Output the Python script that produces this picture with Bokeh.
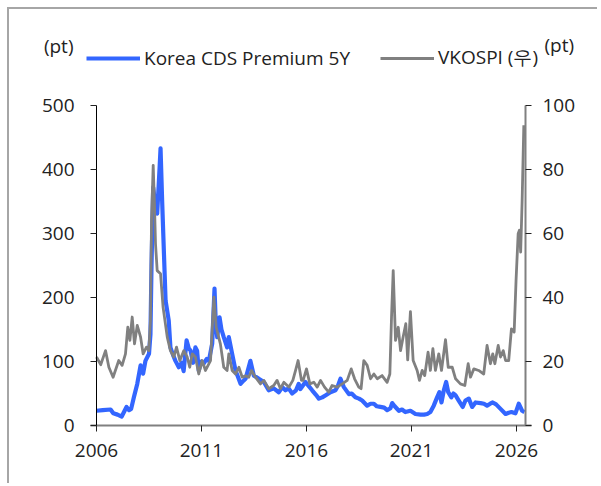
from bokeh.plotting import figure
from bokeh.models import (Range1d, LinearAxis, FixedTicker, Legend, LegendItem,
                          Label, ColumnDataSource)
from bokeh.embed import file_html
from bokeh.resources import INLINE

# ---------------- data ----------------
cds_t = [2006.0, 2006.3, 2006.67, 2006.8, 2007.0, 2007.2, 2007.43, 2007.55, 2007.65, 2007.78,
         2007.94, 2008.1, 2008.22, 2008.33, 2008.5, 2008.57, 2008.62, 2008.7, 2008.78, 2008.89,
         2009.0, 2009.05, 2009.13, 2009.2, 2009.29, 2009.44, 2009.52, 2009.65, 2009.76, 2009.92,
         2010.05, 2010.15, 2010.29, 2010.4, 2010.48, 2010.6, 2010.71, 2010.79, 2010.87, 2011.0,
         2011.11, 2011.25, 2011.35, 2011.51, 2011.62, 2011.68, 2011.75, 2011.86, 2011.95, 2012.06,
         2012.22, 2012.3, 2012.46, 2012.62, 2012.75, 2012.86, 2013.0, 2013.1, 2013.33, 2013.49,
         2013.6, 2013.73, 2013.97, 2014.2, 2014.44, 2014.68, 2014.85, 2015.0, 2015.15, 2015.32,
         2015.5, 2015.63, 2015.71, 2015.95, 2016.1, 2016.27, 2016.45, 2016.59, 2016.75, 2016.9,
         2017.14, 2017.38, 2017.5, 2017.62, 2017.7, 2017.78, 2018.02, 2018.15, 2018.33, 2018.5,
         2018.65, 2018.89, 2019.05, 2019.21, 2019.35, 2019.52, 2019.7, 2019.84, 2020.0, 2020.08,
         2020.2, 2020.4, 2020.55, 2020.71, 2020.95, 2021.19, 2021.43, 2021.6, 2021.75, 2021.9,
         2022.06, 2022.22, 2022.33, 2022.43, 2022.54, 2022.65, 2022.75, 2022.9, 2023.0, 2023.1,
         2023.25, 2023.44, 2023.57, 2023.73, 2023.89, 2024.05, 2024.29, 2024.45, 2024.6, 2024.75,
         2024.87, 2025.03, 2025.24, 2025.48, 2025.63, 2025.76, 2025.95, 2026.11, 2026.2, 2026.27,
         2026.38]
cds_v = [23, 24, 25, 19, 17, 14, 29, 24, 26, 44,
         65, 94, 81, 101, 112, 143, 250, 372, 350, 331,
         400, 433, 347, 280, 195, 164, 122, 110, 101, 91,
         98, 85, 133, 120, 117, 98, 122, 117, 86, 100,
         97, 104, 101, 128, 214, 160, 138, 169, 150, 138,
         122, 138, 112, 86, 75, 65, 70, 73, 101, 78,
         76, 73, 68, 55, 58, 52, 60, 55, 58, 50,
         55, 65, 57, 68, 62, 55, 48, 42, 44, 47,
         52, 55, 62, 73, 66, 60, 49, 50, 44, 42,
         39, 31, 34, 34, 30, 29, 28, 24, 27, 35,
         30, 23, 25, 21, 23, 18, 17, 17, 18, 21,
         31, 44, 52, 36, 55, 68, 52, 44, 50, 47,
         39, 29, 39, 42, 29, 36, 35, 34, 31, 34,
         36, 33, 26, 18, 20, 21, 19, 34, 28, 23,
         21]

vk_t = [2006.0, 2006.2, 2006.43, 2006.59, 2006.79, 2007.06, 2007.22, 2007.38, 2007.49, 2007.59,
        2007.7, 2007.81, 2007.94, 2008.1, 2008.22, 2008.38, 2008.49, 2008.57, 2008.62, 2008.7,
        2008.76, 2008.81, 2008.89, 2009.05, 2009.17, 2009.37, 2009.52, 2009.68, 2009.81, 2009.97,
        2010.16, 2010.32, 2010.44, 2010.56, 2010.71, 2010.87, 2011.03, 2011.19, 2011.43, 2011.59,
        2011.7, 2011.9, 2012.06, 2012.22, 2012.3, 2012.46, 2012.62, 2012.78, 2012.94, 2013.1,
        2013.25, 2013.38, 2013.57, 2013.81, 2013.97, 2014.2, 2014.44, 2014.6, 2014.76, 2014.92,
        2015.16, 2015.35, 2015.48, 2015.6, 2015.76, 2015.84, 2016.0, 2016.16, 2016.35, 2016.51,
        2016.67, 2016.86, 2017.06, 2017.22, 2017.46, 2017.7, 2017.94, 2018.13, 2018.29, 2018.49,
        2018.6, 2018.73, 2018.89, 2019.05, 2019.21, 2019.37, 2019.6, 2019.84, 2019.97, 2020.05,
        2020.13, 2020.24, 2020.37, 2020.48, 2020.6, 2020.73, 2020.82, 2020.95, 2021.08, 2021.27,
        2021.38, 2021.51, 2021.63, 2021.79, 2021.9, 2022.02, 2022.14, 2022.3, 2022.43, 2022.62,
        2022.75, 2022.94, 2023.1, 2023.33, 2023.54, 2023.7, 2023.81, 2023.97, 2024.2, 2024.44,
        2024.6, 2024.76, 2024.87, 2024.97, 2025.13, 2025.24, 2025.37, 2025.48, 2025.63, 2025.76,
        2025.89, 2025.98, 2026.08, 2026.14, 2026.2, 2026.27, 2026.35]
vk_v = [21.4, 19.0, 23.4, 18.2, 15.1, 20.3, 18.8, 22.4, 30.7, 26.6,
        33.9, 25.5, 31.3, 27.6, 22.4, 24.5, 23.4, 32.8, 64.0, 81.3,
        69.3, 56.8, 48.4, 47.4, 37.0, 27.6, 23.4, 21.4, 24.5, 20.3,
        23.4, 21.4, 18.2, 22.4, 21.4, 16.1, 20.3, 17.2, 20.3, 40.1,
        30.7, 25.5, 18.2, 17.2, 22.4, 17.2, 16.1, 18.2, 15.1, 15.5,
        15.1, 17.2, 15.1, 13.0, 14.1, 11.5, 12.5, 14.1, 11.5, 13.5,
        12.0, 14.1, 17.2, 20.3, 14.1, 14.1, 17.7, 13.0, 13.5, 12.0,
        14.1, 12.0, 10.4, 12.5, 12.0, 13.0, 14.1, 17.7, 14.6, 12.0,
        11.5, 20.3, 18.8, 14.6, 16.1, 14.6, 15.6, 13.5, 16.1, 33.9,
        48.4, 26.6, 30.7, 23.4, 27.6, 31.8, 20.5, 35.6, 20.3, 17.2,
        14.1, 17.2, 15.6, 22.9, 17.2, 24.0, 17.2, 22.4, 17.2, 26.8,
        18.2, 18.2, 14.6, 13.0, 12.5, 19.3, 15.1, 17.7, 17.2, 16.1,
        25.0, 19.3, 22.4, 19.3, 25.0, 21.4, 23.4, 20.3, 20.3, 30.2,
        29.2, 45.3, 59.9, 61.0, 54.2, 70.3, 93.8]

x_ticks = [2006, 2011, 2016, 2021, 2026]
left_ticks = [0, 100, 200, 300, 400, 500]
right_ticks = [0, 20, 40, 60, 80, 100]
series_names = ["Korea CDS Premium 5Y", "VKOSPI (우)"]
unit_label = "(pt)"
x_min, x_max = 2006, 2026.43
left_max, right_max = 500, 100

# ---------------- layout constants (pixels) ----------------
W, H = 590, 476
PLOT_L, PLOT_R = 87, 516      # plot area left/right, from canvas left
PLOT_T, PLOT_B = 96, 416      # plot area top/bottom, from canvas top
FONT = "Open Sans"
FS = "19px"
TXT = "#222222"
BLUE = "#3366FF"
GRAY = "#808080"
BORDER = "2px solid #a6a6a6"

# ranges so that the data area sits at the plot box while the frame fills the canvas
xs = (x_max - x_min) / (PLOT_R - PLOT_L)
x0 = x_min - PLOT_L * xs
ly = left_max / (PLOT_B - PLOT_T)
ry = right_max / (PLOT_B - PLOT_T)
bottom_px = H - PLOT_B

p = figure(width=W, height=H, output_backend="svg", toolbar_location=None,
           x_range=Range1d(x0, x0 + W * xs),
           y_range=Range1d(-bottom_px * ly, -bottom_px * ly + H * ly),
           min_border=0, x_axis_location=None, y_axis_location=None)
p.extra_y_ranges = {"right": Range1d(-bottom_px * ry, -bottom_px * ry + H * ry)}
p.outline_line_color = None
p.grid.visible = False
p.margin = (7, 0, 0, 7)
p.styles = {"border-top": BORDER, "border-left": BORDER}

cds_src = ColumnDataSource(dict(t=cds_t, v=cds_v))
vk_src = ColumnDataSource(dict(t=vk_t, v=vk_v))
r_cds = p.line("t", "v", source=cds_src, line_color=BLUE, line_width=4.2, line_join="round")
r_vk = p.line("t", "v", source=vk_src, line_color=GRAY, line_width=2.8, line_join="round",
              y_range_name="right")

def style_axis(ax, line_color, line_width):
    ax.axis_line_color = line_color
    ax.axis_line_width = line_width
    ax.major_tick_line_color = "#222222"
    ax.major_tick_line_width = 1
    ax.major_tick_out = 6
    ax.major_tick_in = 0
    ax.minor_tick_line_color = None
    ax.major_label_text_font = FONT
    ax.major_label_text_font_size = FS
    ax.major_label_text_color = TXT

ext = 6 * xs
xa = LinearAxis(ticker=FixedTicker(ticks=x_ticks), fixed_location=0,
                bounds=(x_min - ext, x_max + ext))
style_axis(xa, GRAY, 2)
xa.major_label_standoff = 12
p.add_layout(xa, "below")

ya = LinearAxis(ticker=FixedTicker(ticks=left_ticks), fixed_location=x_min,
                bounds=(0, left_max))
style_axis(ya, "#000000", 1)
ya.major_label_standoff = 16
p.add_layout(ya, "left")

ya2 = LinearAxis(ticker=FixedTicker(ticks=right_ticks), y_range_name="right",
                 fixed_location=x_max, bounds=(0, right_max))
style_axis(ya2, GRAY, 2)
ya2.major_label_standoff = 11
p.add_layout(ya2, "right")

def make_legend(item, loc):
    lg = Legend(items=[item], location=loc, orientation="horizontal",
                padding=0, margin=0, spacing=0, border_line_color=None,
                background_fill_alpha=0, glyph_width=54, glyph_height=20,
                label_standoff=4, label_text_font=FONT, label_text_font_size=FS,
                label_text_color=TXT, label_height=20)
    p.add_layout(lg, "center")

make_legend(LegendItem(label=series_names[0], renderers=[r_cds]), (77, H - 62))
make_legend(LegendItem(label=series_names[1], renderers=[r_vk]), (371, H - 62))

p.add_layout(Label(x=64, y=H - 36, x_units="screen", y_units="screen", text=unit_label,
                   text_align="right", text_baseline="middle", text_font=FONT,
                   text_font_size=FS, text_color=TXT))
p.add_layout(Label(x=535, y=H - 35, x_units="screen", y_units="screen", text=unit_label,
                   text_align="left", text_baseline="middle", text_font=FONT,
                   text_font_size=FS, text_color=TXT))

open("out.html", "w").write(file_html(p, INLINE))
